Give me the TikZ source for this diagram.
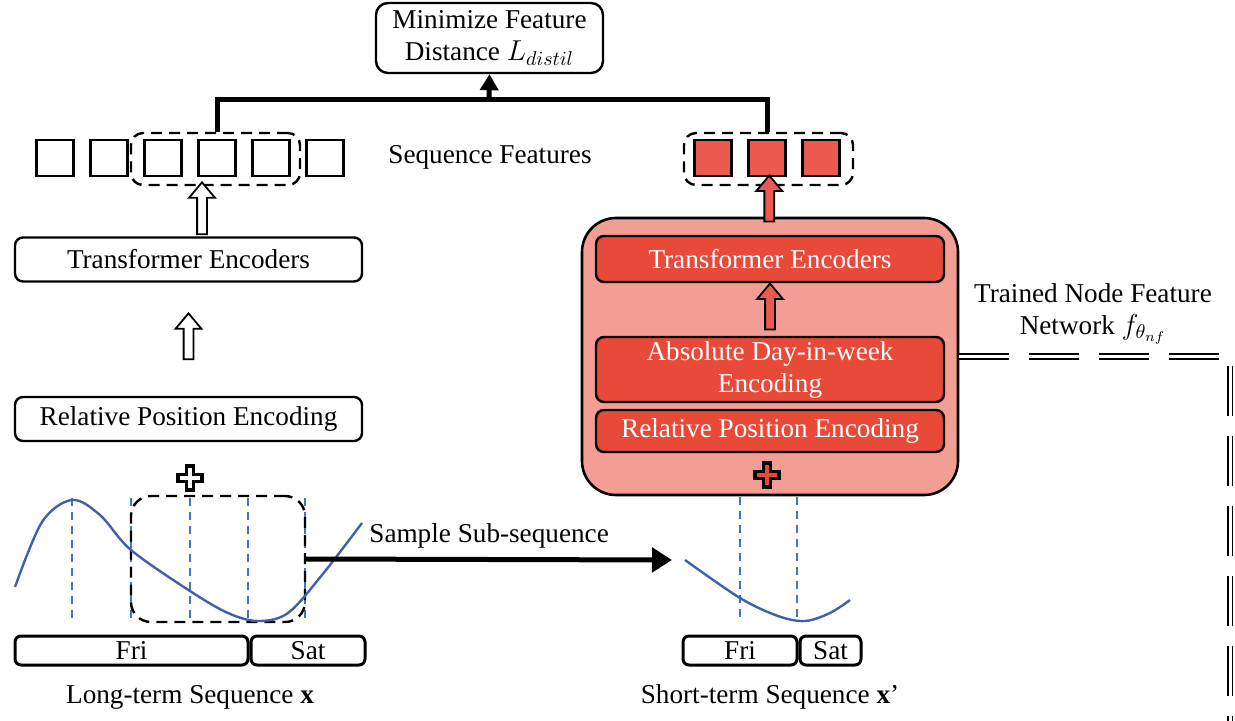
\documentclass[tikz,border=0pt]{standalone}
\usepackage{fontspec}
\setmainfont{Liberation Serif}
\usepackage{amsmath}
\usetikzlibrary{arrows.meta,shapes.arrows,calc}

\definecolor{netpink}{RGB}{242,158,148}
\definecolor{encred}{RGB}{232,74,58}
\definecolor{featred}{RGB}{234,90,78}
\definecolor{seqblue}{RGB}{68,114,196}
\definecolor{curveblue}{RGB}{64,96,168}

\tikzset{
  lbl/.style={font=\fontsize{13.6}{16}\selectfont},
  encbox/.style={lbl, draw, line width=1.2pt, rounded corners=4pt, minimum width=173.5pt,
    minimum height=22pt, inner sep=0pt, align=center},
  redbox/.style={encbox, fill=encred, text=white, minimum width=174pt},
  termbox/.style={encbox, rounded corners=6pt, minimum width=113.5pt, minimum height=35pt},
  feat/.style={draw, line width=1.2pt, minimum width=18.5pt, minimum height=18pt, inner sep=0pt},
  featbox/.style={draw, line width=1.2pt, dash pattern=on 5.5pt off 3.5pt, rounded corners=6pt,
    minimum width=84.5pt, minimum height=26pt, inner sep=0pt},
  subbox/.style={featbox, rounded corners=10pt, minimum width=87pt, minimum height=63pt},
  dayseg/.style={lbl, draw, line width=1.5pt, rounded corners=3pt, minimum height=14.5pt, inner sep=0pt},
  hollow/.style={single arrow, draw, fill=white, line width=0.9pt, shape border rotate=90,
    inner sep=2pt, single arrow head extend=4pt, single arrow tip angle=80},
  redhollow/.style={hollow, fill=featred},
  vdash/.style={seqblue, line width=1pt, dash pattern=on 4pt off 3pt},
  seqcurve/.style={curveblue, line width=1.2pt},
  bigline/.style={line width=2.5pt},
  crossmark/.pic={
    \path[pic actions, line width=1.6pt] (-3.5,-12) -- (3.5,-12) -- (3.5,-3.5) -- (12,-3.5) -- (12,3.5)
      -- (3.5,3.5) -- (3.5,12) -- (-3.5,12) -- (-3.5,3.5) -- (-12,3.5) -- (-12,-3.5) -- (-3.5,-3.5) -- cycle;
  },
}

\begin{document}
\begin{tikzpicture}[x=0.5pt, y=-0.5pt]
\useasboundingbox (0,0) rectangle (1235,721);

% distillation loss
\node[termbox] (mfd) at (489.5,38) {Minimize Feature\\Distance $L_{distil}$};
\coordinate (join) at (489,100);

% long-term branch
\node[featbox] (lfeat) at (215.5,159) {};
\foreach \i/\x in {1/55,2/109,3/163,4/217,5/271,6/325}
  \node[feat] (lf\i) at (\x,158) {};
\node[lbl] (seqf) at (490,157) {Sequence Features};
\node[encbox] (lte) at (188.5,259.5) {Transformer Encoders};
\node[encbox] (lrpe) at (188.5,419) {Relative Position Encoding};
\node[hollow, minimum height=26pt] (lup1) at ($(lte.north)!0.5!(lfeat.south)$) {};
\node[hollow, minimum height=23pt] (lup2) at ($(lrpe.north)!0.5!(lte.south)$) {};
\pic[draw, fill=white] at (190,478) {crossmark};

\foreach \x in {72,131,190,248,305}
  \draw[vdash] (\x,498) -- (\x,622);
\node[subbox] (lsub) at (218,559) {};
\draw[seqcurve] plot[smooth, tension=0.55] coordinates
  {(15,587) (42,522) (72,500) (100,515) (131,550) (190,591) (228,613) (258,621) (288,613)
   (322,575) (362,523)};
\node[dayseg, minimum width=116.5pt] (lfri) at (131.5,650.5) {Fri};
\node[dayseg, minimum width=57pt, anchor=west] (lsat) at (lfri.east) {Sat};
\node[lbl] (lcap) at (190,697) {Long-term Sequence \textbf{x}};

% short-term branch
\node[draw, fill=netpink, line width=1.3pt, rounded corners=17pt, minimum width=188pt,
  minimum height=138.5pt] (fnet) at (770,356.5) {};
\node[redbox, minimum height=23pt] (rte) at (770,259) {Transformer Encoders};
\node[redbox, minimum height=32.5pt] (rabs) at (770,369.5) {Absolute Day-in-week\\Encoding};
\node[redbox, minimum height=21pt] (rrpe) at (770,431) {Relative Position Encoding};
\node[redhollow, minimum height=23pt] (rup2) at ($(rabs.north)!0.5!(rte.south)$) {};
\pic[draw, fill=encred] at (767,475) {crossmark};

\node[featbox] (rfeat) at (768.5,159) {};
\foreach \i/\x in {1/713,2/767,3/821}
  \node[feat, fill=featred] (rf\i) at (\x,158) {};
\node[redhollow, minimum height=23pt] (rup1) at ($(fnet.north)!0.5!(rfeat.south)$) {};

\foreach \x in {740,797}
  \draw[vdash] (\x,497) -- (\x,620);
\draw[seqcurve] plot[smooth, tension=0.55] coordinates
  {(685,560) (740,598) (778,616) (805,621) (830,613) (850,600)};
\node[dayseg, minimum width=57pt] (rfri) at (740,650.5) {Fri};
\node[dayseg, minimum width=30.5pt, anchor=west] (rsat) at (rfri.east) {Sat};
\node[lbl] (rcap) at (770,697) {Short-term Sequence \textbf{x}’};

% connectors
\draw[bigline] (lfeat.north -| lf4) |- (join) -| (rfeat.north -| rf2);
\draw[bigline, -{Triangle[width=9pt, length=8pt]}] (join) -- (mfd.south);
\coordinate (scut) at (672,560);
\draw[bigline, -{Triangle[width=12pt, length=10pt]}] (lsub.east) -- (scut)
  node[lbl, midway, above=1pt] {Sample Sub-sequence};

% trained network, carried over
\node[lbl, align=center] (tnf) at (1093,314) {Trained Node Feature\\Network $f_{\theta_{nf}}$};
\coordinate (bend) at (1230,356.5);
\coordinate (offpage) at (1230,721);
\draw[double, double distance=1.5pt, line width=0.8pt, dash pattern=on 25pt off 10pt]
  (fnet.east) -- (bend) -- (offpage);
\end{tikzpicture}
\end{document}
